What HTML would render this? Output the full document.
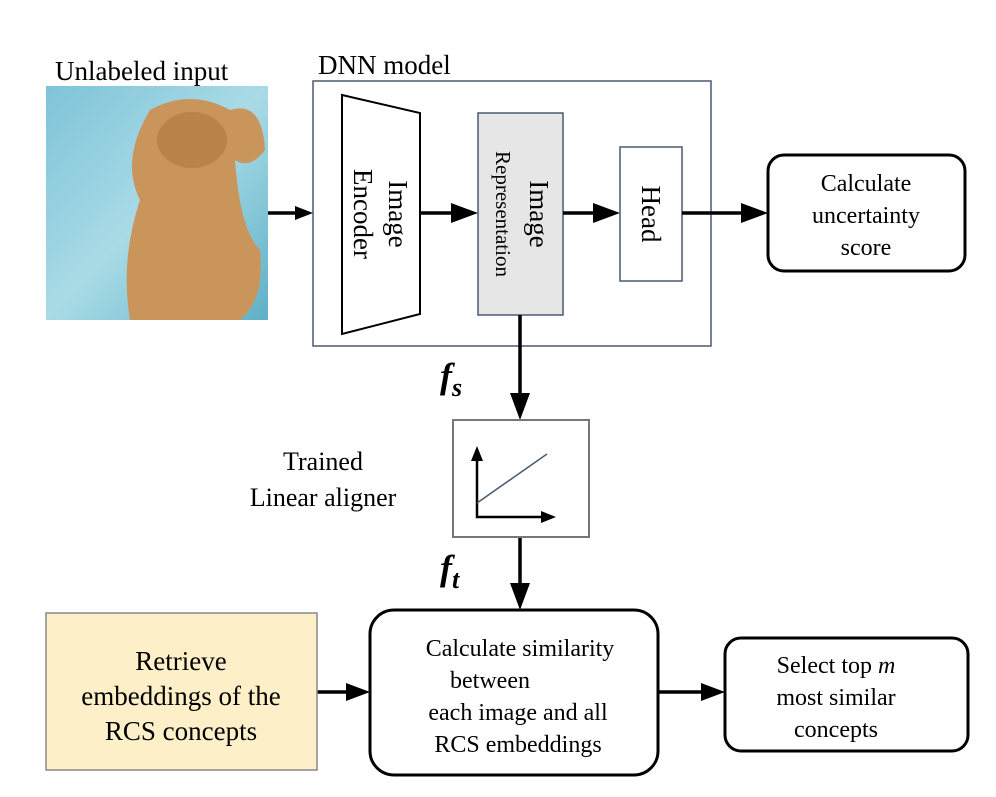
<!DOCTYPE html>
<html><head><style>body{margin:0;background:#fff}svg{display:block}svg text{font-family:'Liberation Serif','DejaVu Serif',serif;fill:#000}</style></head><body>
<svg width="996" height="797" viewBox="0 0 996 797" xmlns="http://www.w3.org/2000/svg" font-family="Liberation Serif, serif">
<defs>
<linearGradient id="w" x1="0" y1="0" x2="1" y2="1"><stop offset="0" stop-color="#7fc3d8"/><stop offset="0.5" stop-color="#a9dbe6"/><stop offset="1" stop-color="#5fb0c8"/></linearGradient>
</defs>
<text x="55" y="80" font-size="27" font-family="Liberation Serif, serif">Unlabeled input</text>
<rect x="46" y="86" width="222" height="234" fill="url(#w)"/>
<path d="M150,110 Q190,88 230,110 Q262,100 265,150 Q250,170 235,160 Q240,230 260,250 Q265,300 240,320 L130,320 Q120,260 140,200 Q120,160 150,110Z" fill="#c9955a"/>
<ellipse cx="192" cy="140" rx="35" ry="28" fill="#b98449"/>
<text x="318" y="74" font-size="27" font-family="Liberation Serif, serif">DNN model</text>
<rect x="313" y="81" width="398" height="265" fill="none" stroke="#4a5a70" stroke-width="1.5"/>
<polygon points="342,95 420,113 420,314 342,334" fill="#fff" stroke="#000" stroke-width="2"/>
<text transform="translate(389,214) rotate(90)" font-size="27" text-anchor="middle" font-family="Liberation Serif, serif">Image</text>
<text transform="translate(354,214) rotate(90)" font-size="27" text-anchor="middle" font-family="Liberation Serif, serif">Encoder</text>
<rect x="478" y="113" width="85" height="202" fill="#e6e6e6" stroke="#4a5a70" stroke-width="1.5"/>
<text transform="translate(530,214) rotate(90)" font-size="27" text-anchor="middle" font-family="Liberation Serif, serif">Image</text>
<text transform="translate(496,214) rotate(90)" font-size="21" text-anchor="middle" font-family="Liberation Serif, serif">Representation</text>
<rect x="620" y="147" width="62" height="134" fill="#fff" stroke="#4a5a70" stroke-width="1.5"/>
<text transform="translate(642,214) rotate(90)" font-size="27" text-anchor="middle" font-family="Liberation Serif, serif">Head</text>
<g stroke="#000" stroke-width="3.5" fill="none">
<line x1="268" y1="213" x2="298" y2="213"/>
<line x1="420" y1="213" x2="460" y2="213"/>
<line x1="563" y1="213" x2="602" y2="213"/>
<line x1="682" y1="213" x2="750" y2="213"/>
<line x1="520" y1="315" x2="520" y2="402"/>
<line x1="520" y1="537" x2="520" y2="590"/>
<line x1="317" y1="692" x2="352" y2="692"/>
<line x1="658" y1="692" x2="707" y2="692"/>
</g>
<g fill="#000">
<polygon points="313,213 295,206 295,220"/>
<polygon points="478,213 451,203 451,223"/>
<polygon points="620,213 593,203 593,223"/>
<polygon points="768,213 741,203 741,223"/>
<polygon points="520,420 510,393 530,393"/>
<polygon points="520,610 510,583 530,583"/>
<polygon points="370,692 346,683 346,701"/>
<polygon points="725,692 701,683 701,701"/>
</g>
<rect x="768" y="155" width="197" height="116" rx="16" fill="#fff" stroke="#000" stroke-width="3"/>
<text font-size="24" text-anchor="middle" font-family="Liberation Serif, serif"><tspan x="866" y="191">Calculate</tspan><tspan x="866" y="223">uncertainty</tspan><tspan x="866" y="255">score</tspan></text>
<text x="440" y="388" font-size="36" font-weight="bold" font-style="italic" font-family="Liberation Serif, serif">f<tspan font-size="26" dy="8">s</tspan></text>
<text x="440" y="580" font-size="36" font-weight="bold" font-style="italic" font-family="Liberation Serif, serif">f<tspan font-size="26" dy="8">t</tspan></text>
<rect x="453" y="420" width="136" height="117" fill="#fff" stroke="#777" stroke-width="2"/>
<g stroke="#000" stroke-width="2.5" fill="none"><polyline points="477,454 477,517 545,517"/></g>
<polygon points="477,446 471,461 483,461" fill="#000"/>
<polygon points="556,517 541,511 541,523" fill="#000"/>
<line x1="477" y1="503" x2="547" y2="454" stroke="#4a5a70" stroke-width="1.5"/>
<text font-size="26" text-anchor="middle" font-family="Liberation Serif, serif"><tspan x="323" y="470">Trained</tspan><tspan x="323" y="506">Linear aligner</tspan></text>
<rect x="46" y="613" width="271" height="157" fill="#fdf0c8" stroke="#888" stroke-width="1.5"/>
<text font-size="27" text-anchor="middle" font-family="Liberation Serif, serif"><tspan x="181" y="670">Retrieve</tspan><tspan x="181" y="705">embeddings of the</tspan><tspan x="181" y="740">RCS concepts</tspan></text>
<rect x="370" y="610" width="288" height="165" rx="24" fill="#fff" stroke="#000" stroke-width="3"/>
<text font-size="24" text-anchor="middle" font-family="Liberation Serif, serif"><tspan x="520" y="656">Calculate similarity</tspan><tspan x="490" y="688">between</tspan><tspan x="518" y="720">each image and all</tspan><tspan x="518" y="752">RCS embeddings</tspan></text>
<rect x="725" y="638" width="243" height="113" rx="16" fill="#fff" stroke="#000" stroke-width="3"/>
<text font-size="24" text-anchor="middle" font-family="Liberation Serif, serif"><tspan x="836" y="673">Select top <tspan font-style="italic">m</tspan></tspan><tspan x="836" y="705">most similar</tspan><tspan x="836" y="737">concepts</tspan></text>
</svg>
</body></html>
